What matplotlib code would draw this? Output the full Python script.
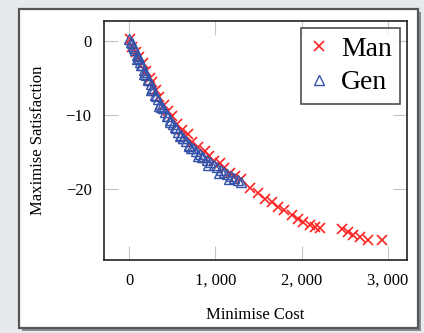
import matplotlib.pyplot as plt
from matplotlib.patches import Rectangle
from matplotlib.ticker import FuncFormatter

# Man (red crosses)
man_cost = [10, 40, 80, 120, 160, 200, 240, 270, 310, 350, 400, 450, 500, 560,
            610, 680, 730, 800, 880, 930, 990, 1050, 1100, 1170, 1230, 1300,
            1402, 1499, 1576, 1653, 1730, 1796, 1885, 1962, 2020, 2097, 2155,
            2213, 2464, 2541, 2599, 2677, 2773, 2928]
man_sat = [0.3, -0.8, -1.5, -2.2, -3.0, -4.0, -5.0, -5.6, -6.6, -7.6, -8.6, -9.5,
           -10.2, -11.2, -12.0, -12.6, -13.6, -14.3, -14.9, -15.6, -16.2, -16.5,
           -17.2, -17.8, -18.3, -18.7,
           -19.9, -20.6, -21.3, -21.8, -22.4, -22.9, -23.5, -24.1, -24.5, -24.9,
           -25.1, -25.3, -25.4, -25.8, -26.2, -26.5, -26.9, -26.9]

# Gen (blue triangles)
gen_cost = [0, 20, 30, 50, 60, 70, 90, 100, 110, 130, 140, 150, 170, 185, 200,
            215, 225, 250, 265, 280, 300, 315, 330, 360, 375, 390, 420, 440, 450,
            480, 510, 530, 540, 570, 600, 620, 630, 660, 700, 720, 740, 780, 820,
            840, 860, 900, 940, 980, 1020, 1060, 1100, 1140, 1180, 1220, 1260, 1300,
            95, 175, 260, 350, 470, 590, 690, 800, 920, 1040, 1160]
gen_sat = [0.3, -0.2, -0.3, -0.7, -1.0, -1.2, -1.9, -2.0, -2.3, -2.8, -3.2, -3.3,
           -3.9, -4.2, -4.6, -5.1, -5.3, -5.8, -6.3, -6.6, -7.3, -7.5, -7.9, -8.5,
           -8.9, -9.1, -9.6, -10.1, -10.1, -10.7, -11.2, -11.6, -11.7, -12.3, -12.7,
           -13.1, -13.1, -13.5, -14.0, -14.4, -14.4, -14.9, -15.3, -15.7, -15.7,
           -16.1, -16.4, -16.7, -17.0, -17.4, -17.7, -18.0, -18.2, -18.5, -18.8, -19.0,
           -2.4, -4.4, -6.6, -8.8, -11.0, -12.9, -14.2, -15.6, -16.8, -17.8, -18.7]

x_ticks = [0, 1000, 2000, 3000]
y_ticks = [0, -10, -20]

plt.rcParams['font.family'] = ['Liberation Serif', 'DejaVu Serif']

fig = plt.figure(figsize=(4.24, 3.33), dpi=100)
fig.patch.set_facecolor('#e6eaed')

# card with shadow
fig.patches.append(Rectangle((0.052, 0.006), 0.941, 0.958, transform=fig.transFigure,
                             facecolor='#8a8d90', edgecolor='none', zorder=-2))
fig.patches.append(Rectangle((0.045, 0.015), 0.941, 0.958, transform=fig.transFigure,
                             facecolor='white', edgecolor='#555555', linewidth=1.6,
                             zorder=-1))

ax = fig.add_axes([0.2453, 0.2192, 0.7147, 0.7178])
ax.set_facecolor('white')

ax.plot(man_cost, man_sat, linestyle='none', marker='x', markersize=7,
        markeredgewidth=1.2, color='#ff2424', label='Man')
ax.plot(gen_cost, gen_sat, linestyle='none', marker='^', markersize=7.5,
        markerfacecolor='none', markeredgewidth=1.0, color='#3553a8', label='Gen')

ax.set_xlim(-290, 3221)
ax.set_ylim(-29.6, 2.7)
ax.set_xticks(x_ticks)
ax.set_yticks(y_ticks)
ax.xaxis.set_major_formatter(FuncFormatter(
    lambda v, p: '0' if v == 0 else '{:,}'.format(int(v)).replace(',', ', ')))
ax.tick_params(direction='in', length=10, width=0.8, color='#c4c4c4',
               top=True, right=True, labelsize=12, pad=9)

for s in ax.spines.values():
    s.set_color('#222222')
    s.set_linewidth(1.2)

ax.set_xlabel('Minimise Cost', fontsize=12, labelpad=13)
ax.set_ylabel('Maximise Satisfaction', fontsize=12, labelpad=14)

leg = ax.legend(loc='upper right', fontsize=20, frameon=True, fancybox=False,
                edgecolor='#222222', handlelength=0.7, handletextpad=0.45,
                borderpad=0.3, labelspacing=0.3, borderaxespad=0.25,
                markerscale=1.0)
leg.get_frame().set_linewidth(1.2)

fig.savefig('out.png', dpi=100, facecolor=fig.get_facecolor())
